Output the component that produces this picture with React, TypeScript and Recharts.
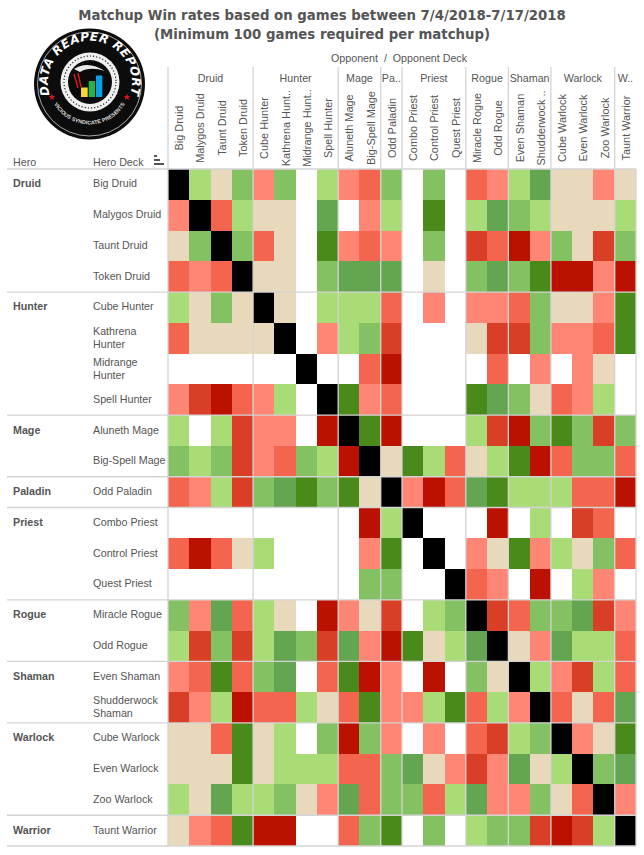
import { BarChart, Bar, Cell, XAxis, YAxis, ReferenceLine } from "recharts";

const heroes = ["Druid", "Hunter", "Mage", "Paladin", "Priest", "Rogue", "Shaman", "Warlock", "Warrior"];
const heroColumnLabels = ["Druid", "Hunter", "Mage", "Pa..", "Priest", "Rogue", "Shaman", "Warlock", "W.."];
const heroDeckCounts = [4, 4, 2, 1, 3, 2, 2, 3, 1];

const decks = [
  "Big Druid", "Malygos Druid", "Taunt Druid", "Token Druid",
  "Cube Hunter", "Kathrena Hunter", "Midrange Hunter", "Spell Hunter",
  "Aluneth Mage", "Big-Spell Mage", "Odd Paladin",
  "Combo Priest", "Control Priest", "Quest Priest",
  "Miracle Rogue", "Odd Rogue", "Even Shaman", "Shudderwock Shaman",
  "Cube Warlock", "Even Warlock", "Zoo Warlock", "Taunt Warrior",
];
const deckColumnLabels = [
  "Big Druid", "Malygos Druid", "Taunt Druid", "Token Druid",
  "Cube Hunter", "Kathrena Hunt..", "Midrange Hunt..", "Spell Hunter",
  "Aluneth Mage", "Big-Spell Mage", "Odd Paladin",
  "Combo Priest", "Control Priest", "Quest Priest",
  "Miracle Rogue", "Odd Rogue", "Even Shaman", "Shudderwock ..",
  "Cube Warlock", "Even Warlock", "Zoo Warlock", "Taunt Warrior",
];

// one letter per opponent: win rate band
// C worst, R, O, S, E about even, L, G, D, F best, K mirror, W under 100 games
const matchupBands = [
  "KLEGSGWLSOGWGWOSLDEESE",
  "SKOLEEWDWSLWFWLDGLEEEL",
  "EGKGOEWFSOSWGWROCSGERG",
  "OSOKEEWGDDDWEWGDGFCCSC",
  "LEGEKEWLLLOWSWSSOGEESF",
  "OEEEEKWSLGRWWWERRGSSOF",
  "WWWWWWKWWOCWWWWOWSWSEW",
  "SRCOSLWKFSOWWWFDGEOSLW",
  "LWLRSSWCKFCWWWLRCGFGRG",
  "GLGRSOGLCKEFLOELFCOGGO",
  "OSLRGDFGFEKSCODFLLLOOC",
  "WWWWWWWWWCLKWWWCWLWROW",
  "OCOELWWWWSFWKWSEFSLEGO",
  "WWWWWWWWWGGWWKOSWCWLSW",
  "GSDOLEWCSERWLGKROGGDRS",
  "LRGRLDGRDSCFELDKESDLLO",
  "SOFOGDWOFCSWCWGEKLSRLO",
  "RSLCOOLEOFSSLFOLSKOEOD",
  "EEOFELWGCGSWSWORLGKSEF",
  "EEEFELLLOOGDESRSDELKGD",
  "LEDLLGESDOGGOLDSSGEOKS",
  "ESOFCCWWOGFWGWLGGRCRLK",
];

const bandColors: Record<string, string> = {
  K: "#000000",
  W: "#ffffff",
  E: "#e8d9bd",
  L: "#a9db77",
  G: "#83c163",
  D: "#64a551",
  F: "#4a8a1a",
  S: "#ff8575",
  O: "#f3654e",
  R: "#d83f26",
  C: "#bb1100",
};

const chartRows = decks.map((deck) => {
  const row: Record<string, string | number> = { deck };
  decks.forEach((_, i) => (row["c" + i] = 1));
  return row;
});

// group edges, in cells, shared by the rows and the columns
const groupEdges = heroDeckCounts.reduce((acc, n) => [...acc, acc[acc.length - 1] + n], [0]);
const columnCenters = decks.map((_, i) => i + 0.5);

const FONT = "'Liberation Sans', Arial, sans-serif";
const TEXT = "#555";
const GRID = "#d4d4d4";
const CELL_W = 468 / 22;
const STAR = "0,-3.6 0.9,-1.1 3.4,-1.1 1.4,0.4 2.1,2.9 0,1.4 -2.1,2.9 -1.4,0.4 -3.4,-1.1 -0.9,-1.1";

const ColumnTick = ({ x, y, payload }: any) => {
  const col = payload.value - 0.5;
  const cy = y - 41;
  const cx = x + 0.5;
  const g = groupEdges.indexOf(col);
  return (
    <g>
      <text
        transform={`rotate(-90 ${cx} ${cy})`}
        x={cx}
        y={cy}
        textAnchor="middle"
        dominantBaseline="central"
        fontFamily={FONT}
        fontSize={10.9}
        fill={TEXT}
      >
        {deckColumnLabels[col]}
      </text>
      {g >= 0 && (
        <>
          <line x1={x - CELL_W / 2} x2={x - CELL_W / 2} y1={y - 102} y2={y} stroke={GRID} strokeWidth={1.3} />
          <text
            x={x - CELL_W / 2 + (heroDeckCounts[g] * CELL_W) / 2}
            y={y - 91}
            textAnchor="middle"
            dominantBaseline="central"
            fontFamily={FONT}
            fontSize={10.7}
            fill={TEXT}
          >
            {heroColumnLabels[g]}
          </text>
        </>
      )}
    </g>
  );
};

const RowTick = ({ x, y, payload }: any) => {
  const name: string = payload.value;
  const lines = name.length > 14 ? name.split(" ") : [name];
  const g = groupEdges.indexOf(decks.indexOf(name));
  const ty = y - 1;
  return (
    <g fontFamily={FONT} fontSize={10.7} fill={TEXT}>
      <text x={x - 75} y={ty - ((lines.length - 1) * 13) / 2} dominantBaseline="central">
        {lines.map((l, i) => (
          <tspan key={i} x={x - 75} dy={i ? 13 : 0}>
            {l}
          </tspan>
        ))}
      </text>
      {g >= 0 && (
        <text x={x - 155} y={ty} dominantBaseline="central" fontWeight="bold">
          {heroes[g]}
        </text>
      )}
    </g>
  );
};

const Logo = () => (
  <svg width={120} height={120} viewBox="30 24 120 120" style={{ position: "absolute", left: 30, top: 24 }}>
    <defs>
      <path id="logoTop" d="M 50.5 97 A 42 42 0 1 1 129.5 97" />
      <path id="logoBottom" d="M 52 100 A 41 41 0 0 0 127 100" />
    </defs>
    <circle cx={89.5} cy={84} r={55.5} fill="#0c0c0c" />
    <circle cx={89.5} cy={84} r={52} fill="none" stroke="#e8e8e8" strokeWidth={0.7} />
    <text fontFamily="'DejaVu Sans', sans-serif" fontSize={12} fontWeight="bold" fontStyle="italic" fill="#fff" letterSpacing={0.4}>
      <textPath href="#logoTop" startOffset="50%" textAnchor="middle">
        DATA REAPER REPORT
      </textPath>
    </text>
    <text fontFamily={FONT} fontSize={5.4} fontWeight="bold" fill="#ddd">
      <textPath href="#logoBottom" startOffset="50%" textAnchor="middle">
        VICIOUS SYNDICATE PRESENTS
      </textPath>
    </text>
    <polygon points={STAR} transform="translate(52 97)" fill="#d8161c" />
    <polygon points={STAR} transform="translate(127 97)" fill="#d8161c" />
    <circle cx={90} cy={82} r={29.5} fill="#f0f0f0" />
    <circle cx={90} cy={82} r={26} fill="none" stroke="#222" strokeWidth={1.2} strokeDasharray="1.2 2" />
    <circle cx={90} cy={82} r={22} fill="#0a0a0a" />
    <path d="M 74 69 Q 88 60 105 71 Q 90 66 80 72 Z" fill="#e8e8e8" />
    <path d="M 74 74 L 78 88 M 78 73 L 81 87" stroke="#d8161c" strokeWidth={1.5} fill="none" />
    <rect x={81} y={87.5} width={6.7} height={9.5} fill="#f7d634" />
    <rect x={88.7} y={81} width={6.3} height={16} fill="#27b34a" />
    <rect x={96} y={75.5} width={6.3} height={21.5} fill="#0a9fe8" />
  </svg>
);

const label = (left: number, top: number, text: string, extra = {}) => (
  <div style={{ position: "absolute", left, top, font: `10.7px/13px ${FONT}`, color: TEXT, whiteSpace: "nowrap", ...extra }}>
    {text}
  </div>
);

export default function App() {
  return (
    <div style={{ position: "absolute", left: 0, top: 0, width: 644, height: 855, background: "#fff", overflow: "hidden" }}>
      <div
        style={{
          position: "absolute",
          left: 0,
          top: 6,
          width: 644,
          textAlign: "center",
          font: "bold 13.3px/19px 'DejaVu Sans', sans-serif",
          color: "#555",
        }}
      >
        Matchup Win rates based on games between 7/4/2018-7/17/2018
        <br />
        (Minimum 100 games required per matchup)
      </div>
      <Logo />
      {label(331, 52, "Opponent  /  Opponent Deck", { whiteSpace: "pre" })}
      {label(13, 156, "Hero")}
      {label(93, 156, "Hero Deck")}
      <svg width={12} height={12} style={{ position: "absolute", left: 154, top: 155 }}>
        <rect x={0} y={0} width={3} height={2} fill="#555" />
        <rect x={0} y={4} width={6} height={2} fill="#555" />
        <rect x={0} y={8} width={10} height={2} fill="#555" />
      </svg>
      <BarChart
        width={644}
        height={855}
        data={chartRows}
        layout="vertical"
        barCategoryGap={0}
        barGap={0}
        margin={{ top: 67, right: 8, bottom: 9, left: 7 }}
        style={{ position: "absolute", left: 0, top: 0 }}
      >
        <XAxis
          type="number"
          orientation="top"
          domain={[0, 22]}
          ticks={columnCenters}
          interval={0}
          height={102}
          tickSize={0}
          tickMargin={0}
          axisLine={false}
          tickLine={false}
          tick={ColumnTick}
        />
        <YAxis
          type="category"
          dataKey="deck"
          width={161}
          interval={0}
          tickSize={0}
          tickMargin={0}
          axisLine={false}
          tickLine={false}
          tick={RowTick}
        />
        {decks.map((_, col) => (
          <Bar key={col} dataKey={"c" + col} stackId="matchups" isAnimationActive={false}>
            {matchupBands.map((row, r) => (
              <Cell key={r} fill={bandColors[row[col]]} shapeRendering="crispEdges" />
            ))}
          </Bar>
        ))}
        {groupEdges.map((edge) => (
          <ReferenceLine key={"v" + edge} x={edge} stroke={GRID} strokeWidth={1.3} />
        ))}
        {groupEdges.slice(0, -1).map((edge) => (
          <ReferenceLine
            key={"h" + edge}
            segment={[
              { x: -7.57, y: decks[edge] },
              { x: 22, y: decks[edge] },
            ]}
            position="start"
            ifOverflow="visible"
            stroke={GRID}
            strokeWidth={1.3}
          />
        ))}
        <ReferenceLine
          segment={[
            { x: -7.57, y: decks[21] },
            { x: 22, y: decks[21] },
          ]}
          position="end"
          ifOverflow="visible"
          stroke={GRID}
          strokeWidth={1.3}
        />
      </BarChart>
    </div>
  );
}
